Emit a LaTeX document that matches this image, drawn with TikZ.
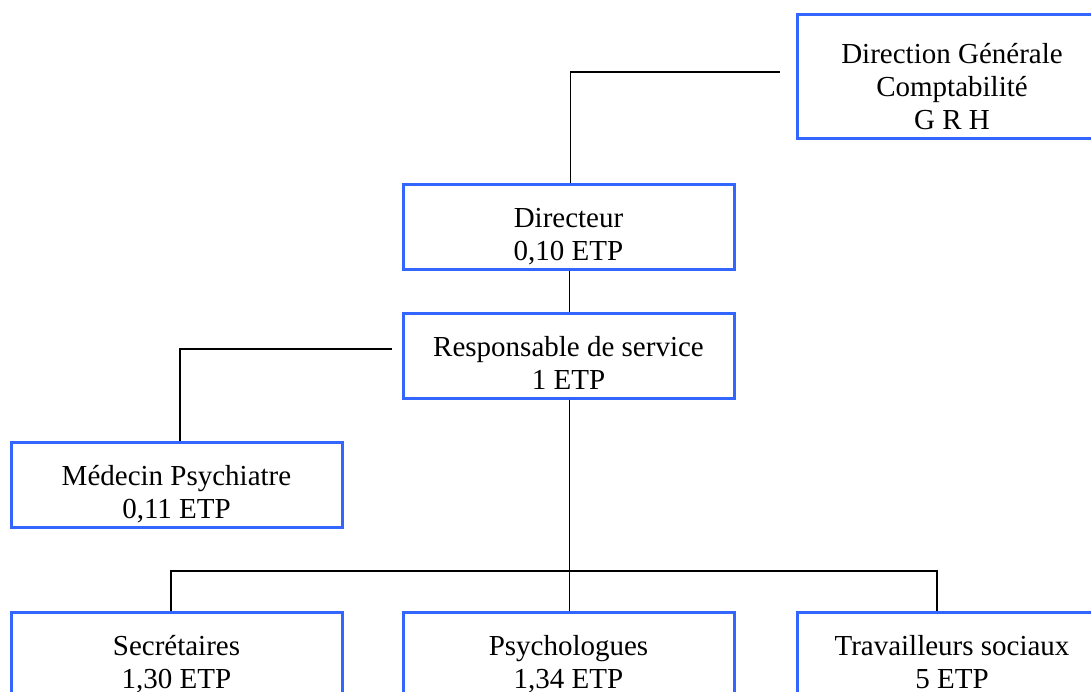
\documentclass[tikz,border=0pt]{standalone}
\usepackage{fontspec}
\setmainfont{Liberation Serif}
\definecolor{boxblue}{RGB}{51,102,255}
\tikzset{
  orgbox/.style={draw=boxblue, line width=3pt, fill=white, minimum height=85pt, inner sep=0pt},
  wide/.style={minimum width=331pt},
  narrow/.style={minimum width=310pt},
  txt/.style={font=\fontsize{29}{33}\selectfont, align=center, inner sep=0pt, yshift=-11pt},
  conn/.style={draw=black, line width=1.6pt},
}
\newcommand{\twol}[2]{\strut #1\\\strut #2}
\begin{document}
\begin{tikzpicture}[x=1pt,y=-1pt]
\useasboundingbox (0,0) rectangle (1091,691);
% boxes
\node[orgbox, narrow, minimum height=124pt,
  label={[txt, yshift=-3pt]center:{\strut Direction Générale\\\strut Comptabilité\\\strut G R H}}] (dg) at (952,76) {};
\node[orgbox, wide, label={[txt]center:{\twol{Directeur}{0,10 ETP}}}] (dir) at (568.5,226.5) {};
\node[orgbox, wide, label={[txt]center:{\twol{Responsable de service}{1 ETP}}}] (resp) at (568.5,355.5) {};
\node[orgbox, wide, label={[txt]center:{\twol{Médecin Psychiatre}{0,11 ETP}}}] (med) at (176.5,484.5) {};
\node[orgbox, wide, label={[txt]center:{\twol{Secrétaires}{1,30 ETP}}}] (sec) at (176.5,654.5) {};
\node[orgbox, wide, label={[txt]center:{\twol{Psychologues}{1,34 ETP}}}] (psy) at (568.5,654.5) {};
\node[orgbox, narrow, label={[txt]center:{\twol{Travailleurs sociaux}{5 ETP}}}] (ts) at (952,654.5) {};
\coordinate (bus) at (570,571);
% connectors
\draw[conn] ([xshift=-16pt,yshift=4pt]dg.west) -| ([xshift=2pt]dir.north);
\draw[conn] ([xshift=1pt]dir.south) -- ([xshift=1pt]resp.north);
\draw[conn] ([xshift=-10pt,yshift=6.5pt]resp.west) -| ([xshift=3.5pt]med.north);
\draw[conn] ([xshift=1pt]resp.south) -- ([xshift=1pt]psy.north);
\draw[conn] ([xshift=-5.5pt]sec.north) -- ([xshift=-5.5pt]sec.north |- bus)
  -- ([xshift=-15pt]ts.north |- bus) -- ([xshift=-15pt]ts.north);
\end{tikzpicture}
\end{document}
